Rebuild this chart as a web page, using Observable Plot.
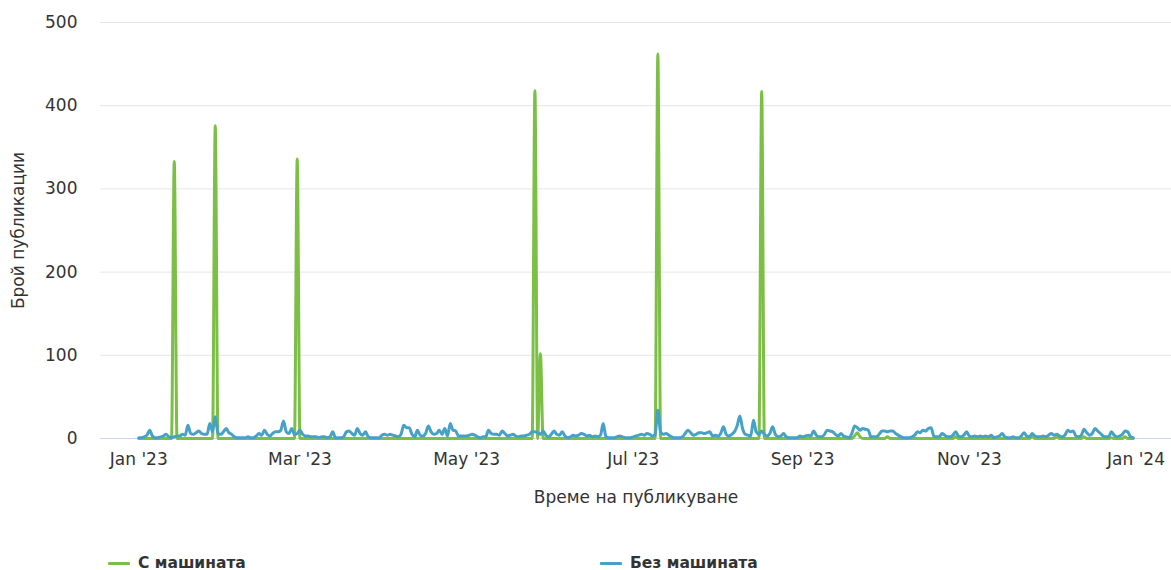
<!DOCTYPE html>
<html>
<head>
<meta charset="utf-8">
<script src="https://cdn.jsdelivr.net/npm/d3@7"></script>
<script src="https://cdn.jsdelivr.net/npm/@observablehq/plot@0.6"></script>
<style>
  html, body { margin: 0; padding: 0; background: #fff; }
  #wrap { position: relative; width: 1171px; height: 570px; font-family: "DejaVu Sans", sans-serif; }
  #chart svg { display: block; }
  .leg { position: absolute; top: 553px; height: 20px; display: flex; align-items: center; font-weight: bold; font-size: 15.5px; color: #333; white-space: nowrap; }
  .sw { display: inline-block; width: 22px; height: 3px; border-radius: 1px; margin-right: 8px; }
</style>
</head>
<body>
<div id="wrap">
  <div id="chart"></div>
  <div class="leg" id="leg1" style="left:108px;"></div>
  <div class="leg" id="leg2" style="left:600px;"></div>
</div>
<script>
// ---- data (daily, 2023) ----
const startDate = "2023-01-01";
const seriesNames = ["С машината", "Без машината"];
const xAxisTitle = "Време на публикуване";
const yAxisTitle = "Брой публикации";
const yTicks = [0, 100, 200, 300, 400, 500];
const xTickDates = ["2023-01-01", "2023-03-01", "2023-05-01", "2023-07-01", "2023-09-01", "2023-11-01", "2024-01-01"];

// "С машината" per month
const withJan = [0,0,0,0,0,0,0,0,0,0, 0,0,0,333,0,0,0,0,0,0, 0,0,0,0,0,0,0,0,376,0, 0];
const withFeb = [0,0,0,0,0,0,0,0,0,0, 0,0,0,0,0,0,0,0,0,0, 0,0,0,0,0,0,0,336];
const withMar = [0,0,0,0,0,0,0,0,0,0, 0,0,0,0,0,0,0,0,0,0, 0,0,0,0,0,0,0,0,0,0, 0];
const withApr = [0,0,0,0,0,0,0,0,0,0, 0,0,0,0,0,0,0,0,0,0, 0,0,0,0,0,0,0,0,0,0];
const withMay = [0,0,0,0,0,0,0,0,0,0, 0,0,0,0,0,0,0,0,0,0, 0,0,0,0,0,418,0,102,0,0, 0];
const withJun = [0,0,0,0,0,0,0,0,0,0, 0,0,0,0,0,0,0,0,0,0, 0,0,0,0,0,0,0,0,0,0];
const withJul = [0,0,0,0,0,0,0,0,0,462, 0,0,0,0,0,0,0,0,0,0, 0,0,0,0,0,0,0,0,0,0, 0];
const withAug = [0,0,0,0,0,0,0,0,0,0, 0,0,0,0,0,0,417,0,0,0, 0,0,0,0,0,0,0,0,0,0, 0];
const withSep = [0,0,0,0,0,0,0,0,0,0, 0,0,0,0,0,0,0,0,0,3, 7,2,0,0,0,0,0,0,0,0];
const withOct = [0,2,0,0,0,0,0,0,0,0, 0,0,0,0,0,0,0,0,0,0, 0,0,0,0,0,0,2,0,0,0, 0];
const withNov = [0,0,0,0,0,0,0,0,0,0, 0,0,0,0,0,0,0,0,0,0, 0,0,0,2,0,0,0,0,0,0];
const withDec = [0,0,2,0,0,0,0,0,0,0, 0,0,2,0,0,0,0,0,0,0, 0,0,1,0,0,0,0,2,0,0, 0];

// "Без машината" per month
const withoutJan = [1,1,2,4,10,3,1,1,2,3, 5,2,1,2,3,3,5,4,16,6, 5,7,9,6,5,5,18,8,26,6, 5];
const withoutFeb = [8,12,7,5,2,1,1,1,1,2, 1,1,3,6,4,10,5,3,6,8, 8,10,21,8,6,12,5,6];
const withoutMar = [10,5,3,3,2,2,2,1,2,2, 1,2,8,1,1,1,2,8,9,6, 4,12,6,4,8,2,1,1,1,1, 4];
const withoutApr = [5,4,5,4,3,2,5,16,13,13, 5,2,10,4,3,6,15,8,5,6, 10,5,12,3,18,10,9,3,3,3];
const withoutMay = [3,4,5,4,2,1,2,2,10,6, 5,5,4,9,6,3,4,5,3,2, 3,3,4,5,8,8,7,5,9,4, 2];
const withoutJun = [5,9,5,4,8,3,1,2,4,3, 4,6,5,3,4,2,3,2,4,18, 2,1,1,1,2,3,2,1,1,1];
const withoutJul = [2,3,4,5,4,6,5,3,5,34, 8,5,6,4,2,1,1,1,2,6, 10,7,4,5,7,7,6,7,8,3, 4];
const withoutAug = [3,6,14,5,3,5,8,15,27,12, 5,4,3,22,8,5,9,5,3,6, 14,5,2,3,6,2,1,1,1,1, 3];
const withoutSep = [2,3,4,3,9,4,2,2,5,10, 9,8,5,3,6,3,2,1,6,15, 13,10,12,11,10,2,2,2,5,9];
const withoutOct = [9,8,9,9,6,4,2,1,1,1, 2,4,8,7,10,9,12,13,3,2, 2,6,4,2,2,4,8,3,2,4, 8];
const withoutNov = [3,2,3,2,3,2,3,2,4,1, 2,3,6,2,1,1,2,1,1,3, 7,3,2,6,3,2,2,3,2,4];
const withoutDec = [6,4,5,3,2,4,10,8,9,3, 2,4,11,7,4,6,12,9,6,3, 2,2,8,4,2,3,5,9,8,2, 1];

const colors = ["#7cbf45", "#45a1c6"];

// ---- build table ----
const withAll = [withJan, withFeb, withMar, withApr, withMay, withJun, withJul, withAug, withSep, withOct, withNov, withDec].flat();
const withoutAll = [withoutJan, withoutFeb, withoutMar, withoutApr, withoutMay, withoutJun, withoutJul, withoutAug, withoutSep, withoutOct, withoutNov, withoutDec].flat();
const t0 = new Date(startDate + "T00:00:00Z");
const rows = withAll.map((v, i) => ({ date: d3.utcDay.offset(t0, i), with: v, without: withoutAll[i] }));
const ticks = xTickDates.map(s => new Date(s + "T00:00:00Z"));

const chart = Plot.plot({
  width: 1171,
  height: 520,
  marginLeft: 100,
  marginRight: 0,
  marginTop: 22,
  marginBottom: 82,
  style: { fontFamily: "DejaVu Sans, sans-serif", fontSize: "17px", color: "#333", background: "#fff", overflow: "visible" },
  x: {
    type: "utc",
    domain: [new Date("2022-12-18T00:00:00Z"), new Date("2024-01-14T00:00:00Z")],
    ticks: ticks,
    tickFormat: d3.utcFormat("%b '%y"),
    tickSize: 0,
    tickPadding: 14,
    label: null
  },
  y: { domain: [0, 500], ticks: yTicks, tickSize: 0, tickPadding: 23, label: null },
  marks: [
    Plot.ruleY(yTicks.filter(v => v > 0), { stroke: "#e6e6e6", strokeWidth: 1 }),
    Plot.ruleY([0], { stroke: "#ccd6eb", strokeWidth: 1 }),
    Plot.lineY(rows, { x: "date", y: "with", stroke: colors[0], strokeWidth: 3, curve: "monotone-x" }),
    Plot.lineY(rows, { x: "date", y: "without", stroke: colors[1], strokeWidth: 3, curve: "monotone-x" }),
    Plot.axisX({ ticks: ticks, tickFormat: d3.utcFormat("%b '%y"), tickSize: 0, tickPadding: 14, label: null, fill: "#333" }),
    Plot.axisY({ ticks: yTicks, tickSize: 0, tickPadding: 23, label: null, fill: "#333" }),
    Plot.text([xAxisTitle], { frameAnchor: "bottom", lineAnchor: "middle", dy: 59, fill: "#333", fontSize: 17 }),
    Plot.text([yAxisTitle], { frameAnchor: "left", lineAnchor: "middle", textAnchor: "middle", rotate: -90, dx: -82, fill: "#333", fontSize: 17 })
  ]
});
document.getElementById("chart").appendChild(chart);

document.getElementById("leg1").innerHTML = `<span class="sw" style="background:${colors[0]}"></span>${seriesNames[0]}`;
document.getElementById("leg2").innerHTML = `<span class="sw" style="background:${colors[1]}"></span>${seriesNames[1]}`;
</script>
</body>
</html>
